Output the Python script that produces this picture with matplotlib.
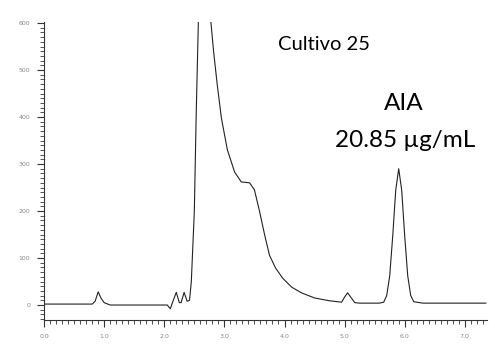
import numpy as np
import matplotlib
matplotlib.use("Agg")
import matplotlib.pyplot as plt
from matplotlib.ticker import MultipleLocator

tempo = [0.0, 0.5, 0.8, 0.85, 0.9, 0.95, 1.0, 1.1, 1.5, 1.8, 2.05, 2.1, 2.15, 2.2,
         2.25, 2.28, 2.33, 2.38, 2.42, 2.45, 2.5, 2.53, 2.57, 2.62, 2.67, 2.72,
         2.77, 2.82, 2.88, 2.95, 3.05, 3.17, 3.28, 3.42, 3.5, 3.58, 3.67, 3.75,
         3.85, 3.97, 4.12, 4.28, 4.5, 4.75, 4.95, 5.0, 5.05, 5.1, 5.17, 5.25,
         5.58, 5.65, 5.7, 5.75, 5.8, 5.85, 5.9, 5.95, 6.0, 6.05, 6.1, 6.15,
         6.3, 7.0, 7.35]
sinal = [2, 2, 2, 8, 28, 14, 5, 0, 0, 0, 0, -8, 10, 27,
         5, 5, 27, 8, 10, 50, 200, 400, 620, 950, 1100, 850,
         610, 540, 470, 398, 330, 283, 262, 260, 245, 202, 149, 106,
         79, 57, 38, 26, 15, 9, 6, 17, 26, 17, 5, 4,
         4, 6, 20, 62, 146, 244, 290, 244, 146, 62, 20, 7,
         4, 4, 4]

xticks = [0.0, 1.0, 2.0, 3.0, 4.0, 5.0, 6.0, 7.0]
yticks = [0, 100, 200, 300, 400, 500, 600]

fig = plt.figure(figsize=(4.95, 3.46), dpi=100)
ax = fig.add_axes([0.089, 0.075, 0.895, 0.861])

ax.plot(tempo, sinal, color="#222222", linewidth=0.8)

ax.set_xlim(0, 7.37)
ax.set_ylim(-32, 602)
ax.set_xticks(xticks)
ax.set_xticklabels([f"{t:.1f}" for t in xticks])
ax.set_yticks(yticks)
ax.xaxis.set_minor_locator(MultipleLocator(0.1))
ax.yaxis.set_minor_locator(MultipleLocator(10))
ax.tick_params(which="major", length=5, width=0.8, labelsize=4.5,
               labelcolor="#888888", color="#333333", pad=5)
ax.tick_params(which="minor", length=3, width=0.6, color="#333333")

for s in ["top", "right"]:
    ax.spines[s].set_visible(False)
for s in ["left", "bottom"]:
    ax.spines[s].set_linewidth(0.8)
    ax.spines[s].set_color("#333333")

fonte = ["Lato", "DejaVu Sans"]
fig.text(0.655, 0.87, "Cultivo 25", fontsize=14.5, family=fonte,
         ha="center", va="center")
fig.text(0.816, 0.70, "AIA", fontsize=17.5, family=fonte,
         ha="center", va="center")
fig.text(0.818, 0.595, "20.85 µg/mL", fontsize=17.5, family=fonte,
         ha="center", va="center")

fig.savefig("out.png", dpi=100)
